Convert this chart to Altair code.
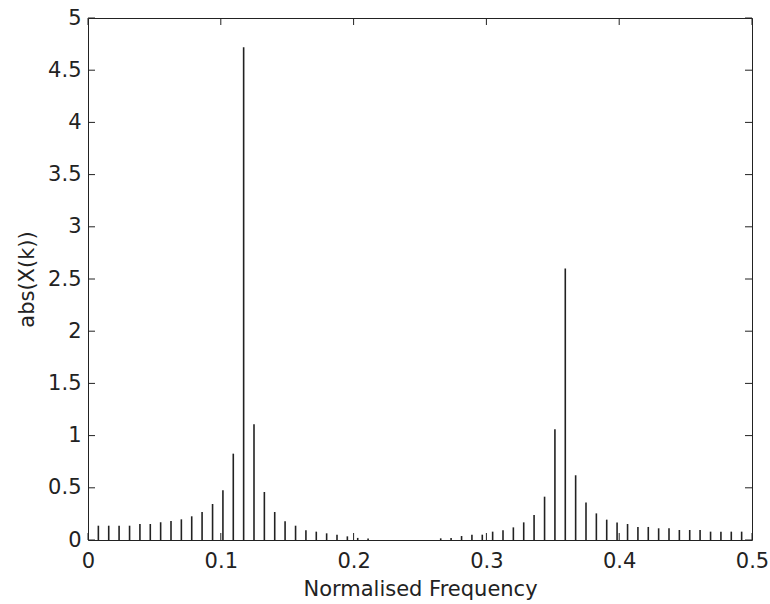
import altair as alt
import pandas as pd

# Normalised frequency of each DFT bin (k/128, k = 1..63)
freq = [0.0078, 0.0156, 0.0234, 0.0313, 0.0391, 0.0469, 0.0547, 0.0625, 0.0703, 0.0781,
        0.0859, 0.0938, 0.1016, 0.1094, 0.1172, 0.1250, 0.1328, 0.1406, 0.1484, 0.1563,
        0.1641, 0.1719, 0.1797, 0.1875, 0.1953, 0.2031, 0.2109, 0.2188, 0.2266, 0.2344,
        0.2422, 0.2500, 0.2578, 0.2656, 0.2734, 0.2813, 0.2891, 0.2969, 0.3047, 0.3125,
        0.3203, 0.3281, 0.3359, 0.3438, 0.3516, 0.3594, 0.3672, 0.3750, 0.3828, 0.3906,
        0.3984, 0.4063, 0.4141, 0.4219, 0.4297, 0.4375, 0.4453, 0.4531, 0.4609, 0.4688,
        0.4766, 0.4844, 0.4922]

# abs(X(k))
mag = [0.137, 0.137, 0.137, 0.137, 0.153, 0.153, 0.170, 0.182, 0.198, 0.227,
       0.268, 0.345, 0.476, 0.827, 4.72, 1.108, 0.460, 0.268, 0.179, 0.137,
       0.093, 0.080, 0.064, 0.051, 0.035, 0.020, 0.015, 0.0, 0.0, 0.0,
       0.0, 0.0, 0.0, 0.016, 0.019, 0.038, 0.051, 0.051, 0.080, 0.093,
       0.121, 0.169, 0.239, 0.415, 1.06, 2.60, 0.620, 0.358, 0.255, 0.195,
       0.168, 0.153, 0.125, 0.125, 0.112, 0.112, 0.096, 0.096, 0.096, 0.080,
       0.080, 0.080, 0.080]

x_ticks = [0, 0.1, 0.2, 0.3, 0.4, 0.5]
y_ticks = [0, 0.5, 1, 1.5, 2, 2.5, 3, 3.5, 4, 4.5, 5]

W, H = 664, 522
TICK = 7
INK = "#222222"
FONT = "DejaVu Sans"

df = pd.DataFrame({"f": freq, "m": mag})
xt = pd.DataFrame({"t": x_ticks})
yt = pd.DataFrame({"t": y_ticks})

xscale = alt.Scale(domain=[0, 0.5], nice=False, zero=False)
yscale = alt.Scale(domain=[0, 5], nice=False)

xaxis = alt.Axis(values=x_ticks, format="~g", title="Normalised Frequency",
                 grid=False, domain=False, ticks=False, labelPadding=10,
                 titlePadding=7, labelFont=FONT, titleFont=FONT,
                 labelFontSize=21, titleFontSize=21, labelColor=INK,
                 titleColor=INK, titleFontWeight="normal", labelFlush=False)
yaxis = alt.Axis(values=y_ticks, format="~g", title="abs(X(k))",
                 grid=False, domain=False, ticks=False, labelPadding=7,
                 titlePadding=10, labelFont=FONT, titleFont=FONT,
                 labelFontSize=21, titleFontSize=21, labelColor=INK,
                 titleColor=INK, titleFontWeight="normal", labelFlush=False)

stems = alt.Chart(df).mark_rule(color=INK, strokeWidth=1.6).encode(
    x=alt.X("f:Q", scale=xscale, axis=xaxis),
    y=alt.Y("m:Q", scale=yscale, axis=yaxis),
    y2=alt.datum(0),
)

tick_style = dict(color=INK, strokeWidth=1)
bottom_ticks = alt.Chart(xt).mark_rule(**tick_style).encode(
    x=alt.X("t:Q", scale=xscale), y=alt.value(H), y2=alt.value(H - TICK))
top_ticks = alt.Chart(xt).mark_rule(**tick_style).encode(
    x=alt.X("t:Q", scale=xscale), y=alt.value(0), y2=alt.value(TICK))
left_ticks = alt.Chart(yt).mark_rule(**tick_style).encode(
    y=alt.Y("t:Q", scale=yscale), x=alt.value(0), x2=alt.value(TICK))
right_ticks = alt.Chart(yt).mark_rule(**tick_style).encode(
    y=alt.Y("t:Q", scale=yscale), x=alt.value(W), x2=alt.value(W - TICK))

chart = alt.layer(stems, bottom_ticks, top_ticks, left_ticks, right_ticks).properties(
    width=W, height=H,
    autosize=alt.AutoSizeParams(type="none"),
    padding={"left": 88, "top": 18, "right": 18, "bottom": 64},
    background="white",
).configure_view(stroke=INK, strokeWidth=1)

chart.save("out.html", embed_options={"renderer": "svg", "actions": False})
